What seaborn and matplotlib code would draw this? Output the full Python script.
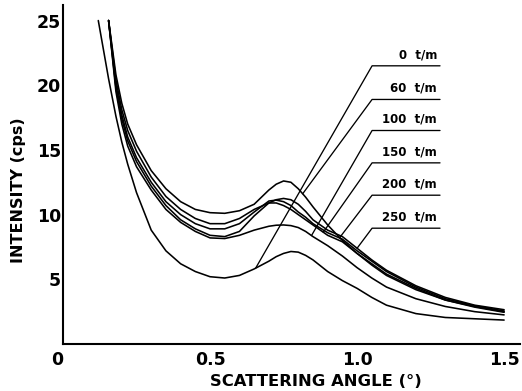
import numpy as np
import pandas as pd
import matplotlib
matplotlib.use("Agg")
import matplotlib.pyplot as plt
import seaborn as sns

# ---- data ----
angle = [0.12, 0.155, 0.18, 0.20, 0.22, 0.25, 0.30, 0.35, 0.40, 0.45, 0.50,
         0.55, 0.60, 0.65, 0.70, 0.725, 0.75, 0.775, 0.80, 0.825, 0.85, 0.90,
         0.95, 1.00, 1.05, 1.10, 1.20, 1.30, 1.40, 1.50]

rate_labels = ["0 t/m", "60 t/m", "100 t/m", "150 t/m", "200 t/m", "250 t/m"]

i_0 = [25.0, 20.5, 17.6, 15.6, 13.9, 11.7, 8.8, 7.2, 6.2, 5.6, 5.2,
       5.1, 5.3, 5.8, 6.4, 6.75, 7.0, 7.15, 7.1, 6.85, 6.5, 5.6,
       4.9, 4.3, 3.6, 3.0, 2.35, 2.05, 1.95, 1.85]
i_60 = [np.nan, 25.0, 20.8, 18.6, 17.0, 15.4, 13.4, 12.0, 11.0, 10.4, 10.15,
        10.1, 10.3, 10.8, 11.9, 12.35, 12.6, 12.5, 12.0, 11.35, 10.6, 9.2,
        8.0, 7.0, 6.1, 5.3, 4.2, 3.4, 2.9, 2.5]
i_100 = [np.nan, 25.0, 19.5, 17.0, 15.3, 13.7, 11.9, 10.4, 9.4, 8.7, 8.2,
         8.15, 8.4, 8.8, 9.1, 9.18, 9.2, 9.15, 9.0, 8.7, 8.3, 7.6,
         6.8, 5.9, 5.1, 4.4, 3.5, 2.9, 2.5, 2.25]
i_150 = [np.nan, 25.0, 19.8, 17.4, 15.7, 14.1, 12.2, 10.7, 9.6, 8.9, 8.4,
         8.3, 8.7, 9.9, 10.9, 10.9, 10.7, 10.4, 10.0, 9.6, 9.2, 8.4,
         7.9, 7.0, 6.2, 5.4, 4.3, 3.4, 2.85, 2.45]
i_200 = [np.nan, 25.0, 20.0, 17.7, 16.0, 14.4, 12.5, 11.0, 10.0, 9.3, 8.9,
         8.9, 9.3, 10.2, 11.05, 11.12, 11.0, 10.7, 10.2, 9.8, 9.3, 8.6,
         8.1, 7.2, 6.4, 5.6, 4.4, 3.5, 2.95, 2.55]
i_250 = [np.nan, 25.0, 20.4, 18.1, 16.5, 14.9, 12.9, 11.4, 10.4, 9.7, 9.3,
         9.3, 9.7, 10.4, 10.9, 11.15, 11.25, 11.15, 10.8, 10.25, 9.6, 8.8,
         8.3, 7.4, 6.5, 5.7, 4.5, 3.6, 3.0, 2.65]

series = [i_0, i_60, i_100, i_150, i_200, i_250]

# leader end angles on each curve, and label rows (intensity of the label bar)
leader_end = [0.655, 0.815, 0.845, 0.885, 0.94, 1.0]
label_level = [21.5, 18.9, 16.5, 14.0, 11.5, 8.95]

frames = []
for lab, vals in zip(rate_labels, series):
    frames.append(pd.DataFrame({"angle": angle, "intensity": vals, "rate": lab}))
df = pd.concat(frames, ignore_index=True).dropna()

sns.set_theme(style="white")
plt.rcParams["font.family"] = ["DejaVu Sans"]
plt.rcParams["text.color"] = "black"
plt.rcParams["axes.labelcolor"] = "black"

fig = plt.figure(figsize=(5.22, 3.91), dpi=100)
ax = fig.add_axes([63 / 522, 1 - 344 / 391, (520 - 63) / 522, (344 - 5) / 391])

sns.lineplot(data=df, x="angle", y="intensity", units="rate", estimator=None,
             color="black", linewidth=1.15, sort=False, ax=ax)

# leader lines and labels
bar_x0, bar_x1 = 1.051, 1.282
for lab, vals, xe, lvl in zip(rate_labels, series, leader_end, label_level):
    v = np.array(vals, dtype=float)
    a = np.array(angle)
    m = ~np.isnan(v)
    ye = np.interp(xe, a[m], v[m])
    ax.plot([xe, bar_x0, bar_x1], [ye, lvl, lvl], color="black", linewidth=0.95)
    ax.text(bar_x1 - 0.01, lvl + 0.35, lab.replace(" ", "  "), ha="right", va="bottom",
            fontsize=8.5, fontweight="bold", color="black")

ax.set_xlim(0, 1.554)
ax.set_ylim(0, 26.2)
ax.set_xticks([0, 0.5, 1.0, 1.5])
ax.set_xticklabels(["0", "0.5", "1.0", "1.5"])
ax.set_yticks([5, 10, 15, 20, 25])
ax.set_yticklabels(["5", "10", "15", "20", "25"])
ax.tick_params(axis="both", direction="in", length=6, width=1.4, colors="black",
               labelsize=12.5)
ax.tick_params(axis="x", pad=5)
ax.tick_params(axis="y", pad=1.5)
for t in ax.get_xticklabels() + ax.get_yticklabels():
    t.set_fontweight("bold")
ax.get_xticklabels()[0].set_horizontalalignment("right")

for s in ["top", "right"]:
    ax.spines[s].set_visible(False)
for s in ["left", "bottom"]:
    ax.spines[s].set_color("black")
    ax.spines[s].set_linewidth(1.5)

ax.set_xlabel("SCATTERING ANGLE (°)", fontsize=11.8, fontweight="bold")
ax.set_ylabel("INTENSITY (cps)", fontsize=11.5, fontweight="bold")
ax.xaxis.set_label_coords((316 - 63) / 457, -(382 - 344) / 339, transform=ax.transAxes)
ax.yaxis.set_label_coords(-(63 - 19) / 457, (344 - 190) / 339, transform=ax.transAxes)
ax.xaxis.label.set_va("center")
ax.yaxis.label.set_va("center")
ax.grid(False)

fig.savefig("out.png", dpi=100)
